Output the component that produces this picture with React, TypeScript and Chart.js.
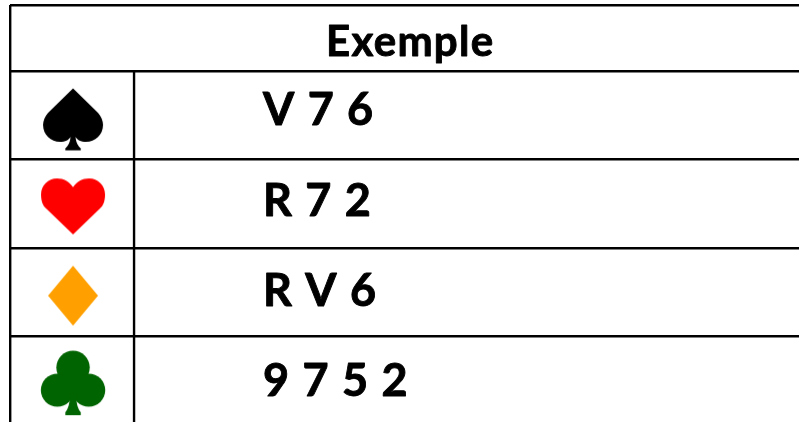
import React, { useEffect, useRef } from "react";
import { Chart, registerables } from "chart.js";

Chart.register(...registerables);

const titleText = "Exemple";
const suitNames = ["spade", "heart", "diamond", "club"];
const suitColors = ["#000000", "#FF0000", "#FFA000", "#006400"];
const suitRows = [0.55, 1.53, 2.54, 3.53];
const suitColumn = 0.508;
const cardTexts = ["V 7 6", "R 7 2", "R V 6", "9 7 5 2"];
const cardRows = [0.61, 1.636, 2.66, 3.68];
const rowEdges = [-0.75, 0, 1, 2, 3];

function glyph(name: string, color: string): HTMLCanvasElement {
  const c = document.createElement("canvas");
  c.width = 72;
  c.height = 72;
  const g = c.getContext("2d")!;
  g.translate(36, 36);
  g.fillStyle = color;
  g.beginPath();
  if (name === "spade") {
    g.moveTo(0, -31.5);
    g.lineTo(-25, -7);
    g.bezierCurveTo(-28, -3.5, -30, 1, -30, 5);
    g.bezierCurveTo(-30, 15, -22, 22, -13, 22);
    g.bezierCurveTo(-8, 22, -4, 20, -2.5, 17);
    g.bezierCurveTo(-3, 23, -5, 26, -7.7, 28.5);
    g.lineTo(-7.7, 30.5);
    g.lineTo(7.7, 30.5);
    g.lineTo(7.7, 28.5);
    g.bezierCurveTo(5, 26, 3, 23, 2.5, 17);
    g.bezierCurveTo(4, 20, 8, 22, 13, 22);
    g.bezierCurveTo(22, 22, 30, 15, 30, 5);
    g.bezierCurveTo(30, 1, 28, -3.5, 25, -7);
    g.closePath();
    g.fill();
  } else if (name === "heart") {
    g.moveTo(0, -19.3);
    g.bezierCurveTo(4, -25, 9, -28, 16, -28);
    g.bezierCurveTo(25, -28, 32, -21, 32, -12);
    g.bezierCurveTo(32, -6, 30.5, -1, 27, 2);
    g.lineTo(0, 28);
    g.lineTo(-27, 2);
    g.bezierCurveTo(-30.5, -1, -32, -6, -32, -12);
    g.bezierCurveTo(-32, -21, -25, -28, -16, -28);
    g.bezierCurveTo(-9, -28, -4, -25, 0, -19.3);
    g.closePath();
    g.fill();
  } else if (name === "diamond") {
    g.moveTo(0, -30);
    g.lineTo(25, 0);
    g.lineTo(0, 30);
    g.lineTo(-25, 0);
    g.closePath();
    g.fill();
  } else {
    g.arc(0, -15.7, 16.7, 0, Math.PI * 2);
    g.fill();
    g.beginPath();
    g.arc(-15.7, 7, 16.5, 0, Math.PI * 2);
    g.fill();
    g.beginPath();
    g.arc(15.7, 7, 16.5, 0, Math.PI * 2);
    g.fill();
    g.beginPath();
    g.rect(-6, -8, 12, 16);
    g.fill();
    g.beginPath();
    g.moveTo(-3, 10);
    g.bezierCurveTo(-3, 20, -5, 26, -7.7, 29);
    g.lineTo(-7.7, 32);
    g.lineTo(7.7, 32);
    g.lineTo(7.7, 29);
    g.bezierCurveTo(5, 26, 3, 20, 3, 10);
    g.closePath();
    g.fill();
  }
  return c;
}

const tableText = {
  id: "tableText",
  afterDatasetsDraw(chart: any) {
    const { ctx, scales } = chart;
    const { x, y } = scales;
    const put = (t: string, px: number, py: number) => {
      ctx.fillText(t, px, py);
      ctx.strokeText(t, px, py);
    };
    ctx.save();
    ctx.fillStyle = "#000";
    ctx.strokeStyle = "#000";
    ctx.lineWidth = 0.9;
    ctx.lineJoin = "round";
    ctx.textBaseline = "alphabetic";
    ctx.textAlign = "center";
    ctx.font = "bold 42px Lato";
    ctx.letterSpacing = "1.3px";
    put(titleText, x.getPixelForValue(3.226), y.getPixelForValue(-0.17));
    ctx.textAlign = "left";
    ctx.font = "bold 45px Lato";
    ctx.letterSpacing = "1.2px";
    cardTexts.forEach((t, i) => {
      put(t, x.getPixelForValue(2.04), y.getPixelForValue(cardRows[i]));
    });
    ctx.restore();
  },
};

export default function App() {
  const ref = useRef<HTMLCanvasElement>(null);
  useEffect(() => {
    const chart = new Chart(ref.current!, {
      type: "scatter",
      data: {
        datasets: [
          {
            label: "colonne",
            data: [
              { x: 1, y: 0 },
              { x: 1, y: 4 },
            ],
            showLine: true,
            borderColor: "#000",
            borderWidth: 2.4,
            pointRadius: 0,
          },
          ...suitNames.map((name, i) => ({
            label: name,
            data: [{ x: suitColumn, y: suitRows[i] }],
            pointStyle: glyph(name, suitColors[i]),
            pointRadius: 36,
          })),
        ],
      },
      options: {
        animation: false,
        responsive: false,
        layout: { autoPadding: false, padding: { left: 10, top: 5, right: 0, bottom: 0 } },
        plugins: { legend: { display: false }, tooltip: { enabled: false } },
        scales: {
          x: {
            type: "linear",
            min: 0,
            max: 6.36,
            border: { display: false },
            grid: { color: "#000", lineWidth: 2.4, drawTicks: false },
            ticks: { display: false },
            afterBuildTicks: (s: any) => {
              s.ticks = [{ value: 0 }];
            },
          },
          y: {
            type: "linear",
            reverse: true,
            min: -0.75,
            max: 3.97,
            border: { display: false },
            grid: { color: "#000", lineWidth: 2.4, drawTicks: false },
            ticks: { display: false },
            afterBuildTicks: (s: any) => {
              s.ticks = rowEdges.map((value) => ({ value }));
            },
          },
        },
      },
      plugins: [tableText],
    } as any);
    return () => chart.destroy();
  }, []);
  return (
    <div style={{ position: "fixed", left: 0, top: 0, width: 799, height: 422, background: "#fff" }}>
      <canvas ref={ref} width={799} height={422} style={{ display: "block", filter: "blur(0.4px)" }} />
    </div>
  );
}
